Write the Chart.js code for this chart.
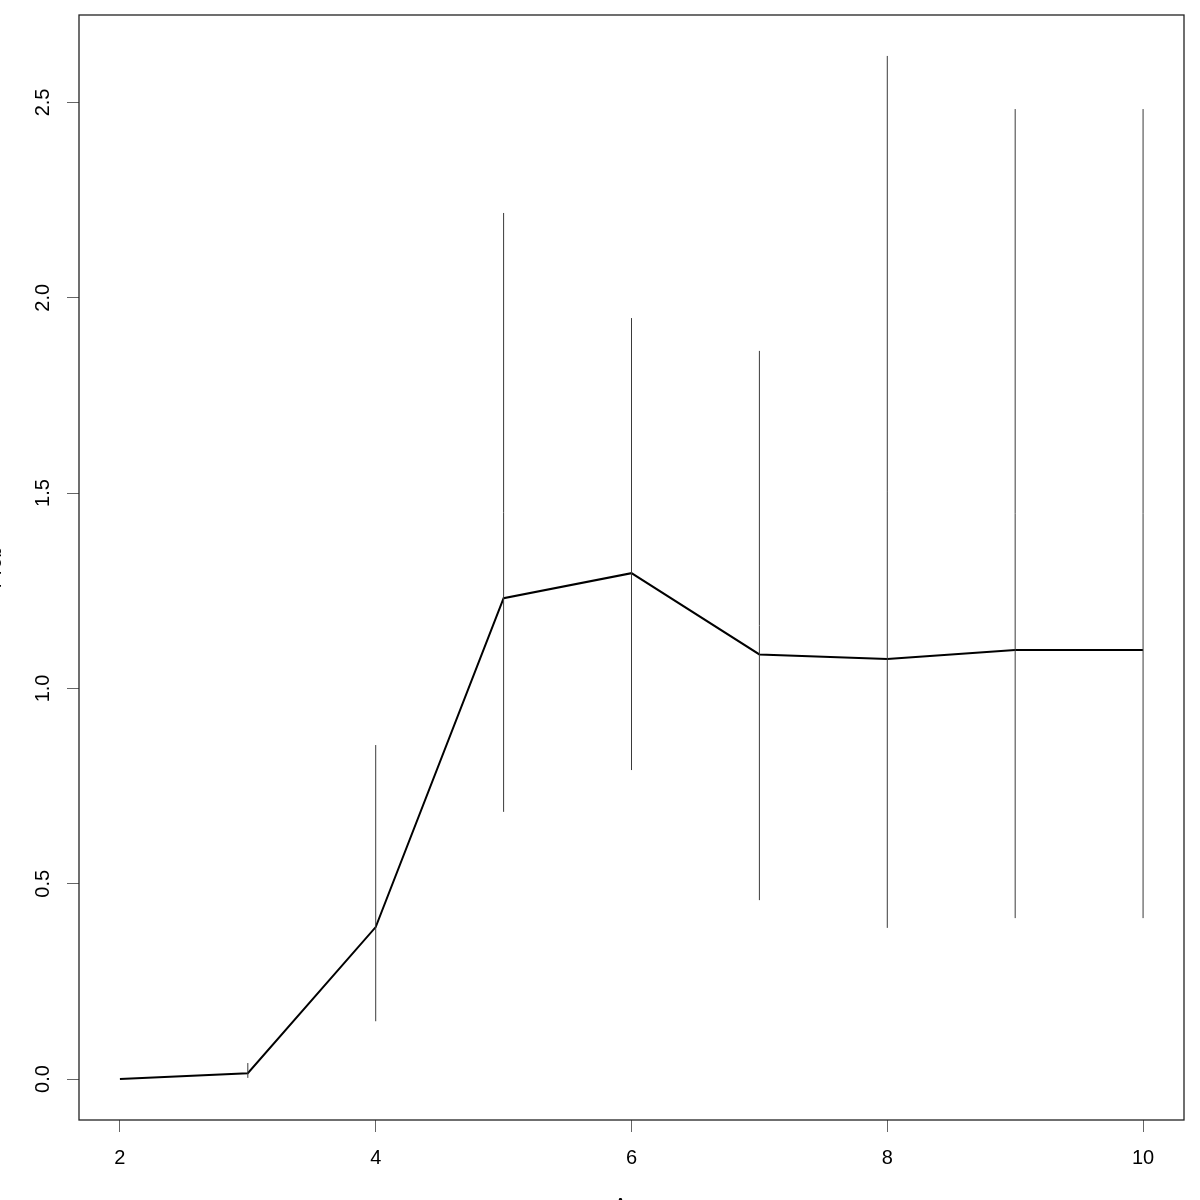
<!DOCTYPE html>
<html>
<head>
<meta charset="utf-8">
<script src="https://cdn.jsdelivr.net/npm/chart.js@4/dist/chart.umd.min.js"></script>
<style>
  html, body { margin: 0; padding: 0; background: #fff; overflow: hidden; }
  #c { display: block; }
</style>
</head>
<body>
<canvas id="c" width="1200" height="1200"></canvas>
<script>
// ---- data ----
const xVals    = [2, 3, 4, 5, 6, 7, 8, 9, 10];
const meanVals = [0.000, 0.015, 0.389, 1.231, 1.295, 1.087, 1.075, 1.098, 1.098];
const errLow   = [0.000, 0.003, 0.148, 0.684, 0.791, 0.458, 0.387, 0.412, 0.412];
const errHigh  = [0.000, 0.041, 0.855, 2.217, 1.948, 1.864, 2.619, 2.483, 2.483];
const xTicks   = [2, 4, 6, 8, 10];
const yTicks   = [0.0, 0.5, 1.0, 1.5, 2.0, 2.5];
const xTitle   = 'Age';
const yTitle   = 'Prob';

Chart.defaults.font.family = "'Liberation Sans', Arial, Helvetica, sans-serif";
Chart.defaults.font.size = 20;
Chart.defaults.color = '#000';

const datasets = [];
// error bars: one two-point segment per x
for (let i = 0; i < xVals.length; i++) {
  datasets.push({
    data: [{x: xVals[i], y: errLow[i]}, {x: xVals[i], y: errHigh[i]}],
    borderColor: '#3a3a3a',
    borderWidth: 1,
    pointRadius: 0,
    fill: false,
    tension: 0
  });
}
// mean line
datasets.push({
  data: xVals.map((x, i) => ({x: x, y: meanVals[i]})),
  borderColor: '#000',
  borderWidth: 2,
  pointRadius: 0,
  fill: false,
  tension: 0
});

const boxPlugin = {
  id: 'box',
  afterDraw(chart) {
    const a = chart.chartArea, ctx = chart.ctx;
    ctx.save();
    ctx.strokeStyle = '#222';
    ctx.lineWidth = 1.3;
    ctx.strokeRect(a.left, a.top, a.right - a.left, a.bottom - a.top);
    ctx.restore();
  }
};

new Chart(document.getElementById('c'), {
  type: 'line',
  data: { datasets },
  plugins: [boxPlugin],
  options: {
    responsive: false,
    animation: false,
    devicePixelRatio: 1,
    layout: { padding: { top: 15, right: 16, left: 0, bottom: 0 } },
    plugins: { legend: { display: false }, tooltip: { enabled: false } },
    scales: {
      x: {
        type: 'linear',
        min: 1.68, max: 10.32,
        afterBuildTicks: s => { s.ticks = xTicks.map(v => ({value: v})); },
        afterFit: s => { s.height = 80; s.paddingLeft = 0; s.paddingRight = 0; },
        grid: { drawOnChartArea: false, drawTicks: true, tickLength: 12, color: '#666', lineWidth: 1 },
        border: { display: false },
        ticks: { padding: 14, maxRotation: 0, minRotation: 0, callback: v => String(v) },
        title: { display: true, text: xTitle, padding: { top: 0, bottom: -18 }, font: { size: 20 } }
      },
      y: {
        type: 'linear',
        min: -0.1048, max: 2.7238,
        afterBuildTicks: s => { s.ticks = yTicks.map(v => ({value: v})); },
        afterFit: s => { s.width = 79; s.paddingTop = 0; s.paddingBottom = 0; },
        grid: { drawOnChartArea: false, drawTicks: true, tickLength: 12, color: '#666', lineWidth: 1 },
        border: { display: false },
        ticks: { padding: 10, minRotation: 90, maxRotation: 90, crossAlign: 'center',
                 callback: v => Number(v).toFixed(1) },
        title: { display: true, text: yTitle, padding: { top: -17, bottom: 0 }, font: { size: 20 } }
      }
    }
  }
});
</script>
</body>
</html>
